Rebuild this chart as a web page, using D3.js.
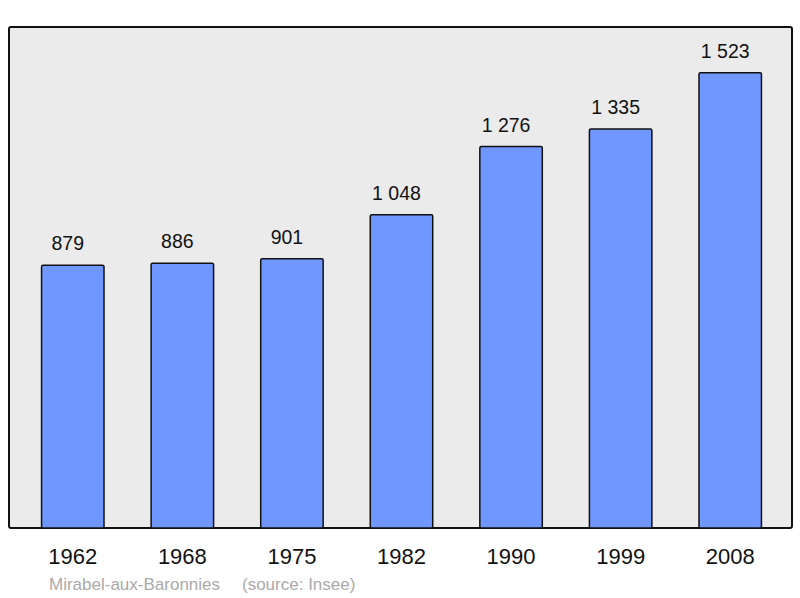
<!DOCTYPE html>
<html>
<head>
<meta charset="utf-8">
<script src="https://cdn.jsdelivr.net/npm/d3@7"></script>
<style>
  body { margin: 0; background: #fff; }
  text { font-family: "Liberation Sans", Arial, sans-serif; }
</style>
</head>
<body>
<script>
// population data
var years = ['1962', '1968', '1975', '1982', '1990', '1999', '2008'];
var population = [879, 886, 901, 1048, 1276, 1335, 1523];
var valueLabels = ['879', '886', '901', '1 048', '1 276', '1 335', '1 523'];
var townName = 'Mirabel-aux-Baronnies';
var sourceText = '(source: Insee)';

var width = 800, height = 598;

var svg = d3.select('body').append('svg')
  .attr('width', width)
  .attr('height', height);

// plot frame
svg.append('rect')
  .attr('x', 9).attr('y', 27)
  .attr('width', 783).attr('height', 501)
  .attr('rx', 2)
  .attr('fill', '#ebebeb')
  .attr('stroke', '#111')
  .attr('stroke-width', 2);

var x = d3.scaleBand()
  .domain(years)
  .range([18, 785])
  .paddingInner(0.43)
  .paddingOuter(0.215);

var y = d3.scaleLinear()
  .domain([0, 1676])
  .range([528, 27]);

var data = years.map(function (yr, i) {
  return { year: yr, value: population[i], label: valueLabels[i] };
});

svg.selectAll('rect.bar')
  .data(data)
  .enter()
  .append('rect')
  .attr('class', 'bar')
  .attr('x', function (d) { return x(d.year); })
  .attr('y', function (d) { return y(d.value); })
  .attr('width', x.bandwidth())
  .attr('height', function (d) { return y(0) - y(d.value); })
  .attr('rx', 1.5)
  .attr('fill', '#7096ff')
  .attr('stroke', '#111')
  .attr('stroke-width', 1.5);

// values above bars (sit a little left of bar centre, as in the original)
svg.selectAll('text.val')
  .data(data)
  .enter()
  .append('text')
  .attr('class', 'val')
  .attr('x', function (d) { return x(d.year) + x.bandwidth() / 2 - 5; })
  .attr('y', function (d) { return y(d.value) - 15; })
  .attr('text-anchor', 'middle')
  .attr('font-size', 19.5)
  .attr('fill', '#111')
  .text(function (d) { return d.label; });

// x axis labels
var xAxis = d3.axisBottom(x).tickSize(0).tickPadding(0);
var ax = svg.append('g')
  .attr('transform', 'translate(0,548)')
  .call(xAxis);
ax.select('.domain').remove();
ax.selectAll('text')
  .attr('font-size', 22)
  .attr('font-family', '"Liberation Sans", Arial, sans-serif')
  .attr('fill', '#111')
  .attr('dy', '0.71em');

// footer
svg.append('text')
  .attr('x', 49).attr('y', 590)
  .attr('font-size', 17)
  .attr('fill', '#aaaaaa')
  .text(townName);
svg.append('text')
  .attr('x', 242).attr('y', 590)
  .attr('font-size', 17)
  .attr('fill', '#aaaaaa')
  .text(sourceText);
</script>
</body>
</html>
